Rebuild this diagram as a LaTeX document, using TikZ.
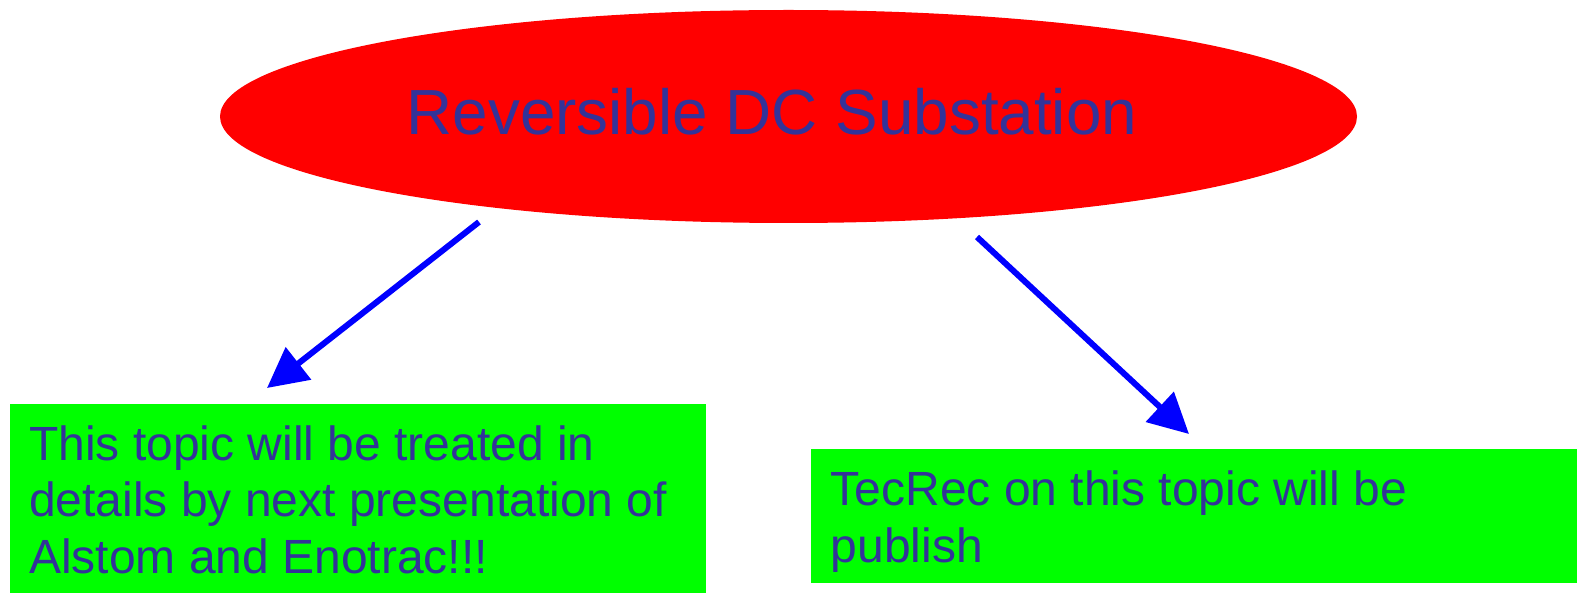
\documentclass[tikz,border=0pt]{standalone}
\usepackage{fontspec}
\setmainfont{Liberation Sans}
\usetikzlibrary{shapes.geometric,arrows.meta}
\definecolor{txtblue}{RGB}{51,51,153}
\definecolor{boxgreen}{RGB}{0,255,0}
\tikzset{
  greenbox/.style={rectangle, fill=boxgreen, draw=none, inner sep=0pt, anchor=north west},
  boxtext/.style={inner sep=0pt, text=txtblue, font=\fontsize{48}{57}\selectfont, anchor=base west},
  conn/.style={draw=blue, line width=6pt, -{Triangle[length=40pt,width=40pt]}},
}
\begin{document}
\begin{tikzpicture}[x=1pt,y=-1pt]
\useasboundingbox (0,0) rectangle (1577,593);
\node[ellipse, fill=red, draw=none, inner sep=0pt, minimum width=1137pt, minimum height=213pt] (ell) at (788.5,116.5) {};
\node[inner sep=0pt, text=txtblue, font=\fontsize{63.8}{70}\selectfont, anchor=base] (title) at (772,135) {Reversible DC Substation};
\node[greenbox, minimum width=696pt, minimum height=189pt] (lbox) at (10,404) {};
\node[greenbox, minimum width=766pt, minimum height=134pt] (rbox) at (811,449) {};
\node[boxtext] (ltext) at (29,460) {\begin{tabular}[t]{@{}l@{}}This topic will be treated in\\details by next presentation of\\Alstom and Enotrac!!!\end{tabular}};
\node[boxtext] (rtext) at (830.5,505) {\begin{tabular}[t]{@{}l@{}}TecRec on this topic will be\\publish\end{tabular}};
\coordinate (ls) at (479,222);
\coordinate (le) at (267,388);
\coordinate (rs) at (977,237);
\coordinate (re) at (1189,434);
\draw[conn] (ls) -- (le);
\draw[conn] (rs) -- (re);
\end{tikzpicture}
\end{document}
